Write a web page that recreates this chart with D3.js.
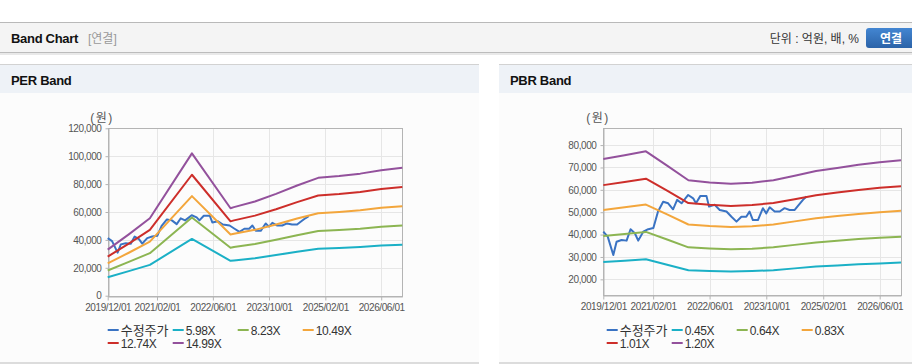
<!DOCTYPE html>
<html><head><meta charset="utf-8">
<script src="https://cdn.jsdelivr.net/npm/d3@7"></script>
<style>
body{margin:0;background:#fff;}
svg{display:block;font-family:"Liberation Sans","Noto Sans CJK KR",sans-serif;}
</style>
</head><body>
<svg id="c" width="912" height="364"></svg>
<script>
// ---------------- DATA ----------------
const xTickLabels = ["2019/12/01","2021/02/01","2022/06/01","2023/10/01","2025/02/01","2026/06/01"];
const xDomain = ["2019/12/01","2026/12/01"];

const priceDates = ["2019-12-01","2020-01-08","2020-02-25","2020-03-24","2020-05-06","2020-06-18","2020-07-22","2020-08-28","2020-09-26","2020-11-08","2020-12-21","2021-02-03","2021-03-15","2021-04-28","2021-06-10","2021-07-22","2021-08-26","2021-10-03","2021-11-29","2022-01-11","2022-02-04","2022-03-14","2022-05-05","2022-05-27","2022-07-15","2022-08-27","2022-10-24","2022-12-06","2023-01-18","2023-03-01","2023-04-12","2023-05-10","2023-06-08","2023-07-21","2023-09-02","2023-10-01","2023-10-30","2023-12-12","2024-01-24","2024-03-06","2024-04-18","2024-06-01","2024-06-29","2024-08-11","2024-09-10"];
const priceValues = [41300,39100,30900,36800,37600,37300,42400,40600,37300,41300,42400,42900,50300,54700,54000,51300,55500,54000,57700,56200,54000,57300,57300,52500,53300,51000,50300,48000,45800,48000,48000,50300,46500,46500,51800,49500,52200,50300,50300,51800,51000,51000,52800,55500,57000];

// PER band
const perDates = ["2019-12-01","2020-06-01","2020-12-01","2021-12-01","2022-11-01","2022-12-01","2023-06-01","2023-12-01","2024-06-01","2024-12-01","2025-06-01","2025-12-01","2026-06-01","2026-12-01"];
const per598  = [13200,17600,22100,40700,25000,25300,26900,29100,31500,33700,34200,34900,35900,36600];
const per823  = [18100,24200,30500,56000,34400,34900,37100,40100,43400,46400,47100,48000,49400,50400];
const per1049 = [23100,30800,38800,71400,43900,44400,47200,51100,55300,59100,60000,61200,63000,64200];
const per1274 = [28000,37400,47200,86700,53300,54000,57400,62000,67100,71800,72900,74400,76500,78000];
const per1499 = [33000,44000,55500,102000,62700,63500,67500,73000,79000,84500,85800,87500,90000,91800];
const perLabels = ["수정주가","5.98X","8.23X","10.49X","12.74X","14.99X"];
const perYTicks = [0,20000,40000,60000,80000,100000,120000];

// PBR band
const pbrDates = ["2019-12-01","2020-06-01","2020-12-01","2021-06-01","2021-12-01","2022-06-01","2022-12-01","2023-06-01","2023-12-01","2024-06-01","2024-12-01","2025-06-01","2025-12-01","2026-06-01","2026-12-01"];
const pbr045 = [27700,28300,29000,26500,24100,23700,23500,23700,24100,24900,25700,26200,26700,27100,27500];
const pbr064 = [39400,40300,41200,37800,34300,33800,33400,33700,34300,35400,36500,37200,38000,38600,39000];
const pbr083 = [51000,52200,53400,49000,44500,43800,43400,43700,44500,45900,47300,48300,49200,50000,50600];
const pbr101 = [62100,63500,65000,59600,54100,53300,52800,53200,54100,55800,57600,58800,59900,60900,61600];
const pbr120 = [73800,75500,77200,70800,64300,63300,62700,63200,64300,66300,68400,69800,71200,72300,73200];
const pbrLabels = ["수정주가","0.45X","0.64X","0.83X","1.01X","1.20X"];
const pbrYTicks = [20000,30000,40000,50000,60000,70000,80000];

const colors = ["#3a73c3","#1bb0c6","#8cb552","#f3a63c","#cd2e2a","#93519c"];

// ---------------- DRAW ----------------
const svg = d3.select("#c");
const parseD = d3.timeParse("%Y-%m-%d");
const parseS = d3.timeParse("%Y/%m/%d");

// page header
svg.append("rect").attr("x",0).attr("y",22).attr("width",912).attr("height",1).attr("fill","#b9b9b9");
svg.append("rect").attr("x",0).attr("y",23).attr("width",912).attr("height",29).attr("fill","#f4f4f4");
svg.append("rect").attr("x",0).attr("y",52).attr("width",912).attr("height",1).attr("fill","#bcbcbc");
svg.append("rect").attr("x",0).attr("y",53).attr("width",912).attr("height",2).attr("fill","#e9e9e9");
svg.append("text").attr("x",11).attr("y",43).attr("font-size",13).attr("font-weight","bold").attr("fill","#111").attr("letter-spacing","-0.3").text("Band Chart");
svg.append("text").attr("x",88).attr("y",43).attr("font-size",12).attr("fill","#999").text("[연결]");
svg.append("text").attr("x",859).attr("y",43).attr("font-size",12).attr("fill","#333").attr("text-anchor","end").text("단위 : 억원, 배, %");
const grad = svg.append("defs").append("linearGradient").attr("id","btn").attr("x1",0).attr("y1",0).attr("x2",0).attr("y2",1);
grad.append("stop").attr("offset","0").attr("stop-color","#4386d2");
grad.append("stop").attr("offset","1").attr("stop-color","#2b63a8");
svg.append("rect").attr("x",866).attr("y",28).attr("width",52).attr("height",20).attr("rx",3).attr("fill","url(#btn)");
svg.append("text").attr("x",891).attr("y",42.5).attr("font-size",12).attr("font-weight","bold").attr("fill","#fff").attr("text-anchor","middle").text("연결");

function panel(x0, x1, title){
  svg.append("rect").attr("x",x0).attr("y",64).attr("width",x1-x0).attr("height",1).attr("fill","#d2d2d2");
  svg.append("rect").attr("x",x0).attr("y",65).attr("width",x1-x0).attr("height",28).attr("fill","#eef2f7");
  svg.append("rect").attr("x",x0).attr("y",93).attr("width",x1-x0).attr("height",269).attr("fill","#fcfcfc");
  svg.append("rect").attr("x",x0).attr("y",362).attr("width",x1-x0).attr("height",2).attr("fill","#dcdcdc");
  svg.append("text").attr("x",x0+11).attr("y",85).attr("font-size",13).attr("font-weight","bold").attr("fill","#111").attr("letter-spacing","-0.3").text(title);
}
panel(0,479,"PER Band");
panel(499,912,"PBR Band");

function chart(cfg){
  const g = svg.append("g");
  const x = d3.scaleTime().domain(xDomain.map(parseS)).range([cfg.left,cfg.right]);
  const y = d3.scaleLinear().domain(cfg.yDomain).range([cfg.bottom,cfg.top]);
  const xt = xTickLabels.map(parseS);
  // grid
  g.selectAll(".hg").data(cfg.yTicks).join("line")
    .attr("x1",cfg.left).attr("x2",cfg.right).attr("y1",d=>Math.round(y(d))+0.5).attr("y2",d=>Math.round(y(d))+0.5)
    .attr("stroke","#e6e6e6");
  g.selectAll(".vg").data(xt.slice(1)).join("line")
    .attr("x1",d=>Math.round(x(d))+0.5).attr("x2",d=>Math.round(x(d))+0.5).attr("y1",cfg.top).attr("y2",cfg.bottom)
    .attr("stroke","#e6e6e6");
  // border
  g.append("rect").attr("x",Math.round(cfg.left)+0.5).attr("y",Math.round(cfg.top)+0.5)
    .attr("width",Math.round(cfg.right)-Math.round(cfg.left)).attr("height",Math.round(cfg.bottom)-Math.round(cfg.top))
    .attr("fill","none").attr("stroke","#b4b4b4");
  // axes
  const ax = g.append("g").attr("transform",`translate(0,${Math.round(cfg.bottom)+0.5})`)
    .call(d3.axisBottom(x).tickValues(xt).tickFormat(d3.timeFormat("%Y/%m/%d")).tickSize(4).tickSizeOuter(0));
  ax.select(".domain").attr("stroke","#b4b4b4");
  ax.selectAll(".tick line").attr("stroke","#b4b4b4");
  ax.selectAll(".tick text").attr("fill","#555").attr("font-size",10).attr("letter-spacing","-0.4")
    .attr("font-family","Liberation Sans");
  const ay = g.append("g").attr("transform",`translate(${Math.round(cfg.left)+0.5},0)`)
    .call(d3.axisLeft(y).tickValues(cfg.yTicks).tickFormat(d3.format(",")).tickSize(3).tickSizeOuter(0));
  ay.select(".domain").attr("stroke","#b4b4b4");
  ay.selectAll(".tick line").attr("stroke","#b4b4b4");
  ay.selectAll(".tick text").attr("fill","#555").attr("font-size",10).attr("letter-spacing","-0.4")
    .attr("font-family","Liberation Sans").attr("x",-7);
  g.append("text").attr("x",cfg.unitX).attr("y",122).attr("text-anchor","middle").attr("font-size",12)
    .attr("letter-spacing","1.5").attr("fill","#555").text("(원)");
  // lines
  const line = d3.line().x(d=>x(d[0])).y(d=>y(d[1]));
  const series = [ {d:priceDates.map(parseD), v:priceValues} ].concat(cfg.bands.map(b=>({d:cfg.dates.map(parseD), v:b})));
  series.forEach((s,i)=>{
    g.append("path").datum(s.d.map((dd,k)=>[dd,s.v[k]])).attr("d",line)
      .attr("fill","none").attr("stroke",colors[i]).attr("stroke-width",2).attr("stroke-linejoin","round");
  });
  // legend
  cfg.labels.forEach((lab,i)=>{
    const col = i%4, row = Math.floor(i/4);
    const lx = cfg.legX + col*65, ly = 330 + row*13;
    g.append("rect").attr("x",lx).attr("y",ly-1).attr("width",11).attr("height",2).attr("fill",colors[i]);
    g.append("text").attr("x",lx+13).attr("y",ly+4.5).attr("font-size",i===0?13:12).attr("fill","#333")
      .attr("letter-spacing",i===0?"0":"-0.4").text(lab);
  });
}

chart({left:107.7,right:402.3,top:128.3,bottom:295.7,yDomain:[0,120000],yTicks:perYTicks,
  dates:perDates,bands:[per598,per823,per1049,per1274,per1499],labels:perLabels,legX:107.7,unitX:102});
chart({left:603.3,right:901,top:128.3,bottom:295,yDomain:[13000,87500],yTicks:pbrYTicks,
  dates:pbrDates,bands:[pbr045,pbr064,pbr083,pbr101,pbr120],labels:pbrLabels,legX:606.7,unitX:598});
</script>
</body></html>
